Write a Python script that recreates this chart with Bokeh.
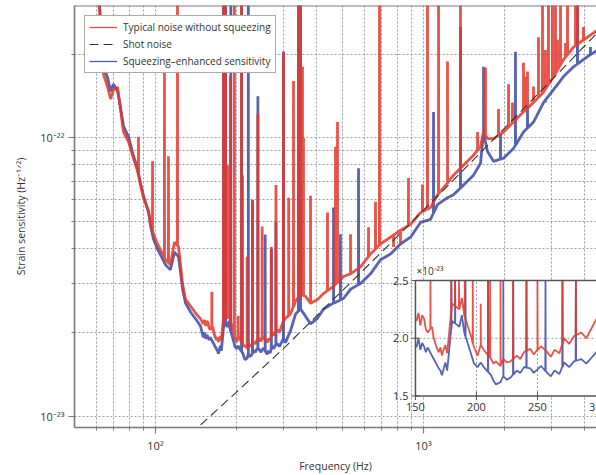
import numpy as np
from bokeh.plotting import figure
from bokeh.models import (FixedTicker, Range1d, LinearScale, Legend, LegendItem,
                          Span, CustomJSTickFormatter)
from bokeh.core.properties import value
from bokeh.embed import file_html
from bokeh.resources import INLINE

FONT = "Open Sans"

# ---------------- data ----------------
red_f = [59.7, 61.8, 64.0, 66.2, 68.0, 69.7, 72.2, 74.0, 76.0, 79.3, 82.8, 85.7, 87.9, 90.2,
         94.2, 95.8, 98.3, 101.7, 104.4, 109.0, 113.7, 117.7, 121.9, 126.1, 129.4, 135.1, 141.1,
         147.2, 150.8, 152.5, 154.0, 155.5, 157.0, 158.5, 160.0, 163.5, 165.0, 167.0, 169.0,
         170.5, 171.7, 173.0, 174.5, 176.0, 180.0, 186.0, 188.0, 190.0, 193.0, 196.0, 198.0,
         201.0, 203.5, 206.0, 212.0, 214.0, 216.0, 219.7, 222.0, 225.0, 228.0, 233.0, 236.0,
         239.0, 244.0, 247.0, 250.0, 253.0, 258.0, 261.0, 264.0, 268.0, 272.0, 276.0, 280.0,
         286.0, 290.0, 295.0, 300.0,
         305.5, 319.0, 333.0, 347.5, 362.8, 378.8, 402.3, 423.6, 461.6, 502.9, 534.1, 582.1,
         634.3, 691.1, 753.2, 820.7, 894.4, 974.5, 1062, 1128, 1229, 1294, 1411, 1537, 1632,
         1675, 1733, 1825, 1989, 2167, 2361, 2573, 2804, 3055, 3330, 3628, 4092, 4576]
red_h = [3.38e-22, 2.92e-22, 1.69e-22, 1.53e-22, 1.38e-22, 1.49e-22, 1.52e-22, 1.27e-22,
         1.05e-22, 9.70e-23, 8.45e-23, 7.60e-23, 6.78e-23, 6.10e-23, 5.48e-23, 4.97e-23,
         4.51e-23, 4.16e-23, 3.96e-23, 3.65e-23, 3.50e-23, 4.22e-23, 4.06e-23, 3.00e-23,
         2.63e-23, 2.49e-23, 2.35e-23,
         2.24e-23, 2.15e-23, 2.22e-23, 2.11e-23, 2.20e-23, 2.17e-23, 2.08e-23, 2.05e-23,
         2.10e-23, 2.00e-23, 1.93e-23, 1.88e-23, 1.92e-23, 1.85e-23, 1.90e-23, 1.94e-23,
         1.87e-23, 2.30e-23, 2.25e-23, 2.35e-23, 2.20e-23, 2.10e-23, 2.00e-23, 1.92e-23,
         1.85e-23, 1.94e-23, 1.90e-23, 1.82e-23, 1.78e-23, 1.80e-23, 1.76e-23, 1.82e-23,
         1.79e-23, 1.80e-23, 1.85e-23, 1.82e-23, 1.88e-23, 1.91e-23, 1.86e-23, 1.90e-23,
         1.93e-23, 1.88e-23, 1.84e-23, 1.90e-23, 1.87e-23, 2.00e-23, 1.95e-23, 2.02e-23,
         2.05e-23, 2.00e-23, 2.10e-23, 2.20e-23,
         2.25e-23, 2.33e-23, 2.59e-23, 2.74e-23, 2.70e-23, 2.55e-23, 2.63e-23, 2.76e-23,
         2.93e-23, 3.18e-23, 3.25e-23, 3.44e-23, 3.83e-23, 4.16e-23, 4.40e-23, 4.66e-23,
         4.89e-23, 5.39e-23, 5.62e-23, 6.25e-23, 6.89e-23, 7.35e-23, 7.98e-23, 8.66e-23,
         9.32e-23, 1.05e-22, 9.94e-23, 9.94e-23, 1.05e-22, 1.14e-22, 1.24e-22, 1.34e-22,
         1.46e-22, 1.66e-22, 1.91e-22, 2.12e-22, 2.30e-22, 2.48e-22]

blue_f = red_f
blue_h = [3.38e-22, 2.99e-22, 1.79e-22, 1.65e-22, 1.47e-22, 1.56e-22, 1.47e-22, 1.29e-22,
          1.10e-22, 1.01e-22, 8.59e-23, 7.78e-23, 6.89e-23, 6.20e-23, 5.39e-23, 4.85e-23,
          4.33e-23, 3.99e-23, 3.80e-23, 3.50e-23, 3.36e-23, 3.89e-23, 3.74e-23, 2.88e-23,
          2.55e-23, 2.37e-23, 2.24e-23,
          2.11e-23, 1.92e-23, 2.00e-23, 1.90e-23, 1.96e-23, 1.93e-23, 1.88e-23, 1.92e-23,
          1.85e-23, 1.82e-23, 1.78e-23, 1.74e-23, 1.72e-23, 1.68e-23, 1.73e-23, 1.79e-23,
          1.72e-23, 2.15e-23, 2.10e-23, 2.20e-23, 2.05e-23, 1.95e-23, 1.85e-23, 1.78e-23,
          1.75e-23, 1.79e-23, 1.75e-23, 1.68e-23, 1.63e-23, 1.60e-23, 1.62e-23, 1.67e-23,
          1.64e-23, 1.66e-23, 1.72e-23, 1.70e-23, 1.75e-23, 1.74e-23, 1.70e-23, 1.73e-23,
          1.76e-23, 1.70e-23, 1.67e-23, 1.72e-23, 1.69e-23, 1.79e-23, 1.75e-23, 1.80e-23,
          1.82e-23, 1.78e-23, 1.84e-23, 1.90e-23,
          1.84e-23, 2.03e-23, 2.33e-23, 2.43e-23, 2.29e-23, 2.15e-23, 2.25e-23, 2.43e-23,
          2.55e-23, 2.65e-23, 2.86e-23, 3.00e-23, 3.25e-23, 3.65e-23, 3.83e-23, 4.16e-23,
          4.40e-23, 4.97e-23, 5.10e-23, 5.76e-23, 6.10e-23, 6.25e-23, 6.78e-23, 7.35e-23,
          8.11e-23, 1.04e-22, 8.94e-23, 8.24e-23, 8.45e-23, 9.17e-23, 1.05e-22, 1.14e-22,
          1.34e-22, 1.49e-22, 1.66e-22, 1.80e-22, 1.96e-22, 2.10e-22]

red_spike_f = [86.4, 97.5, 108.0, 111.8, 120.8, 162.3, 179.4, 182.5, 185.7, 190.4,
               197.0, 203.5, 209.5, 211.2, 219.7, 230.1, 241.0, 250.0, 270.5, 281.5,
               300.3, 314.0, 327.3, 341.6, 347.5, 353.6, 356.6, 378.8, 438.3, 469.5,
               477.6, 534.1, 623.5, 662.0, 685.2, 773.0, 820.7, 879.0, 991.0, 1035,
               1138, 1229, 1374, 1591, 1703, 1905, 2076, 2148, 2361, 2402,
               2444, 2573, 2686, 2780, 2852, 2926, 3029, 3108, 3162, 3245,
               3388, 3446, 3692, 3755, 3954]
red_spike_h = [1.01e-22, 8.24e-23, 1.76e-22, 8.59e-23, 4e-22, 2.8e-23, 4e-22, 4e-22, 7.98e-23, 1.66e-22,
               4e-22, 2.3e-23, 4e-22, 7.35e-23, 3.74e-23, 5.95e-23, 1.22e-22, 4.81e-23, 4.06e-23, 6.78e-23,
               2.04e-22, 6.10e-23, 1.60e-22, 4e-22, 4e-22, 1.80e-22, 1.00e-22, 6.2e-23, 5.4e-23, 9.3e-23,
               1.14e-22, 4.51e-23, 4.78e-23, 5.9e-23, 4e-22, 4.06e-23, 4.16e-23, 7.18e-23, 6.8e-23, 4e-22,
               4e-22, 1.88e-22, 4e-22, 1.05e-22, 1.79e-22, 1.27e-22, 1.56e-22, 1.34e-22, 1.86e-22, 1.66e-22,
               1.73e-22, 1.53e-22, 2.30e-22, 4e-22, 2.07e-22, 4e-22, 4e-22, 4e-22, 2.25e-22, 4e-22,
               2.19e-22, 4e-22, 4e-22, 4e-22, 2.50e-22]

blue_spike_f = [179.4, 182.5, 191.0, 209.5, 222.0, 230.1, 241.0, 256.6, 270.5, 281.5,
                300.3, 341.6, 347.5, 461.6, 490.0, 572.2, 1090, 1374, 1675, 1938,
                2204, 2444, 2852, 3108, 3755, 4198]
blue_spike_h = [4e-22, 4e-22, 4e-22, 4e-22, 4e-22, 6e-23, 1.41e-22, 4.5e-23, 4.0e-23, 5e-23,
                2.04e-22, 4e-22, 4e-22, 5.62e-23, 4.51e-23, 7.78e-23, 1.24e-22, 2.50e-22, 1.80e-22, 1.04e-22,
                2.04e-22, 1.30e-22, 1.34e-22, 1.53e-22, 4e-22, 2.12e-22]

shot_f = [135, 143.5, 200, 300, 500, 700, 1000, 1500, 2000, 3000, 4200, 4600]
shot_h = [8.6e-24, 9.1e-24, 1.22e-23, 1.75e-23, 2.84e-23, 3.9e-23, 5.5e-23, 8.15e-23,
          1.08e-22, 1.61e-22, 2.25e-22, 2.46e-22]

x_major = [100, 1000]
x_minor = [60, 70, 80, 90, 200, 300, 400, 500, 600, 700, 800, 900, 2000, 3000, 4000]
y_major = [1e-23, 1e-22]
y_minor = [2e-23, 3e-23, 4e-23, 5e-23, 6e-23, 7e-23, 8e-23, 9e-23, 2e-22]

inset_x_ticks = [150, 200, 250, 300]
inset_y_ticks = [1.5, 2.0, 2.5]
inset_scale = 1e23

labels = ["Typical noise without squeezing", "Shot noise", "Squeezing\u2013enhanced sensitivity"]

RED = "#e5362a"
BLUE = "#3a48a6"
AXC = "#7a7a7a"
TXT = "#333333"


def merge(bf, bh, sf, sh):
    bf = np.asarray(bf, float)
    bh = np.asarray(bh, float)
    lf, lh = np.log10(bf), np.log10(bh)
    xs, ys = list(bf), list(bh)
    for f, h in zip(sf, sh):
        base = 10 ** np.interp(np.log10(f), lf, lh)
        xs += [f * 0.9993, f, f * 1.0007]
        ys += [base, h, base]
    order = np.lexsort((ys, xs))
    return np.array(xs)[order], np.array(ys)[order]


rf, rh = merge(red_f, red_h, red_spike_f, red_spike_h)
bf, bh = merge(blue_f, blue_h, blue_spike_f, blue_spike_h)

# ---------------- main figure ----------------
p = figure(width=596, height=475, x_axis_type="log", y_axis_type="log",
           x_range=Range1d(49.86, 4421), y_range=Range1d(9.12e-24, 2.989e-22),
           output_backend="svg", toolbar_location=None,
           min_border_left=74, min_border_right=0, min_border_top=5, min_border_bottom=42)
p.outline_line_color = None
p.background_fill_color = "white"
p.border_fill_color = "white"

xt = FixedTicker(ticks=x_major, minor_ticks=x_minor)
yt = FixedTicker(ticks=y_major, minor_ticks=y_minor)
sup = CustomJSTickFormatter(code="""
const e = Math.round(Math.log10(tick));
const m = {'-':'\u207b','0':'\u2070','1':'\u00b9','2':'\u00b2','3':'\u00b3','4':'\u2074',
           '5':'\u2075','6':'\u2076','7':'\u2077','8':'\u2078','9':'\u2079'};
return '10' + String(e).split('').map(c => m[c]).join('');
""")
for ax, t in ((p.xaxis[0], xt), (p.yaxis[0], yt)):
    ax.ticker = t
    ax.formatter = sup
    ax.axis_line_color = AXC
    ax.axis_line_width = 1.6
    ax.major_tick_line_color = AXC
    ax.major_tick_line_width = 1.2
    ax.major_tick_out = 6
    ax.major_tick_in = 0
    ax.minor_tick_line_color = AXC
    ax.minor_tick_out = 3
    ax.minor_tick_in = 0
    ax.major_label_text_font = FONT
    ax.major_label_text_font_size = "11px"
    ax.major_label_text_color = TXT
    ax.major_label_standoff = 4
    ax.axis_label_text_font = FONT
    ax.axis_label_text_font_size = "10.5px"
    ax.axis_label_text_font_style = "normal"
    ax.axis_label_text_color = TXT
p.xgrid.ticker = xt
p.ygrid.ticker = yt
for g in (p.xgrid[0], p.ygrid[0]):
    g.grid_line_color = "#9c9c9c"
    g.grid_line_dash = "2 2"
    g.minor_grid_line_color = "#9c9c9c"
    g.minor_grid_line_dash = "2 2"

p.yaxis.axis_label = "Strain sensitivity (Hz\u207b\u00b9\u141f\u00b2)"
p.yaxis.axis_label_standoff = 9
p.xaxis.axis_label = "Frequency (Hz)"
p.xaxis.axis_label_standoff = 3

p.add_layout(Span(location=p.y_range.end, dimension="width", line_color=AXC, line_width=2))

p.line(bf, bh, line_color=BLUE, line_width=2.8, line_alpha=0.85)
p.line(rf, rh, line_color=RED, line_width=2.8, line_alpha=0.85)
shot_r = p.line(shot_f, shot_h, line_color=TXT, line_width=1.1, line_dash="9 5")

# thin stand-ins used only for the legend swatches (a single point draws nothing)
red_key = p.line(red_f[:1], red_h[:1], line_color=RED, line_width=1.3, line_alpha=0.9)
blue_key = p.line(blue_f[:1], blue_h[:1], line_color=BLUE, line_width=1.3, line_alpha=0.9)

# ---------------- inset (own linear scales) ----------------
p.extra_x_ranges = {"ix": Range1d(-129.5, 298.4)}
p.extra_y_ranges = {"iy": Range1d(1.2265, 4.8846)}
p.extra_x_scales = {"ix": LinearScale()}
p.extra_y_scales = {"iy": LinearScale()}
kw = dict(x_range_name="ix", y_range_name="iy")
x0, x1 = min(inset_x_ticks), max(inset_x_ticks) + 10
y0, y1 = min(inset_y_ticks), max(inset_y_ticks)

p.quad(left=x0, right=x1, bottom=y0, top=y1, fill_color="white", line_color=None, **kw)
p.segment(x0=[200, 250], y0=[y0, y0], x1=[200, 250], y1=[y1, y1],
          line_color="#9c9c9c", line_dash="2 2", line_width=1, **kw)
p.segment(x0=[x0], y0=[2.0], x1=[x1], y1=[2.0],
          line_color="#9c9c9c", line_dash="2 2", line_width=1, **kw)

mb = bf >= x0
p.line(bf[mb], np.clip(bh[mb] * inset_scale, y0, y1), line_color=BLUE, line_width=1.8,
       line_alpha=0.85, **kw)
mr = rf >= x0
p.line(rf[mr], np.clip(rh[mr] * inset_scale, y0, y1), line_color=RED, line_width=1.8,
       line_alpha=0.85, **kw)

frame_col = "#555555"
p.segment(x0=[x0, x0, x0], y0=[y0, y1, y0], x1=[x0, x1, x1], y1=[y1, y1, y0],
          line_color=frame_col, line_width=1.5, **kw)
p.rect(x=inset_x_ticks, y=[y0] * len(inset_x_ticks), width=1, height=8,
       width_units="screen", height_units="screen", fill_color=frame_col,
       line_color=None, **kw)
p.rect(x=[x0] * len(inset_y_ticks), y=inset_y_ticks, width=8, height=1,
       width_units="screen", height_units="screen", fill_color=frame_col,
       line_color=None, **kw)
p.text(x=inset_x_ticks, y=[y0] * len(inset_x_ticks), text=[str(v) for v in inset_x_ticks],
       text_align="center", text_baseline="top", y_offset=7, text_font=value(FONT),
       text_font_size="11px", text_color=TXT, **kw)
p.text(x=[x0] * len(inset_y_ticks), y=inset_y_ticks, text=["%.1f" % v for v in inset_y_ticks],
       text_align="right", text_baseline="middle", x_offset=-7, text_font=value(FONT),
       text_font_size="11px", text_color=TXT, **kw)
p.text(x=[x0], y=[y1], text=["\u00d710\u207b\u00b2\u00b3"], text_align="left",
       text_baseline="bottom", x_offset=1, y_offset=-3, text_font=value(FONT),
       text_font_size="10px", text_color=TXT, **kw)

# ---------------- legend ----------------
legend = Legend(items=[LegendItem(label=labels[0], renderers=[red_key]),
                       LegendItem(label=labels[1], renderers=[shot_r]),
                       LegendItem(label=labels[2], renderers=[blue_key])],
                location="top_left", margin=10, padding=4, spacing=3,
                glyph_width=28, glyph_height=14, label_height=14, label_standoff=6,
                border_line_color="#555555", border_line_width=1,
                label_text_font=FONT, label_text_font_size="10px",
                label_text_color=TXT, background_fill_alpha=1)
p.add_layout(legend)

open("out.html", "w").write(file_html(p, INLINE))
